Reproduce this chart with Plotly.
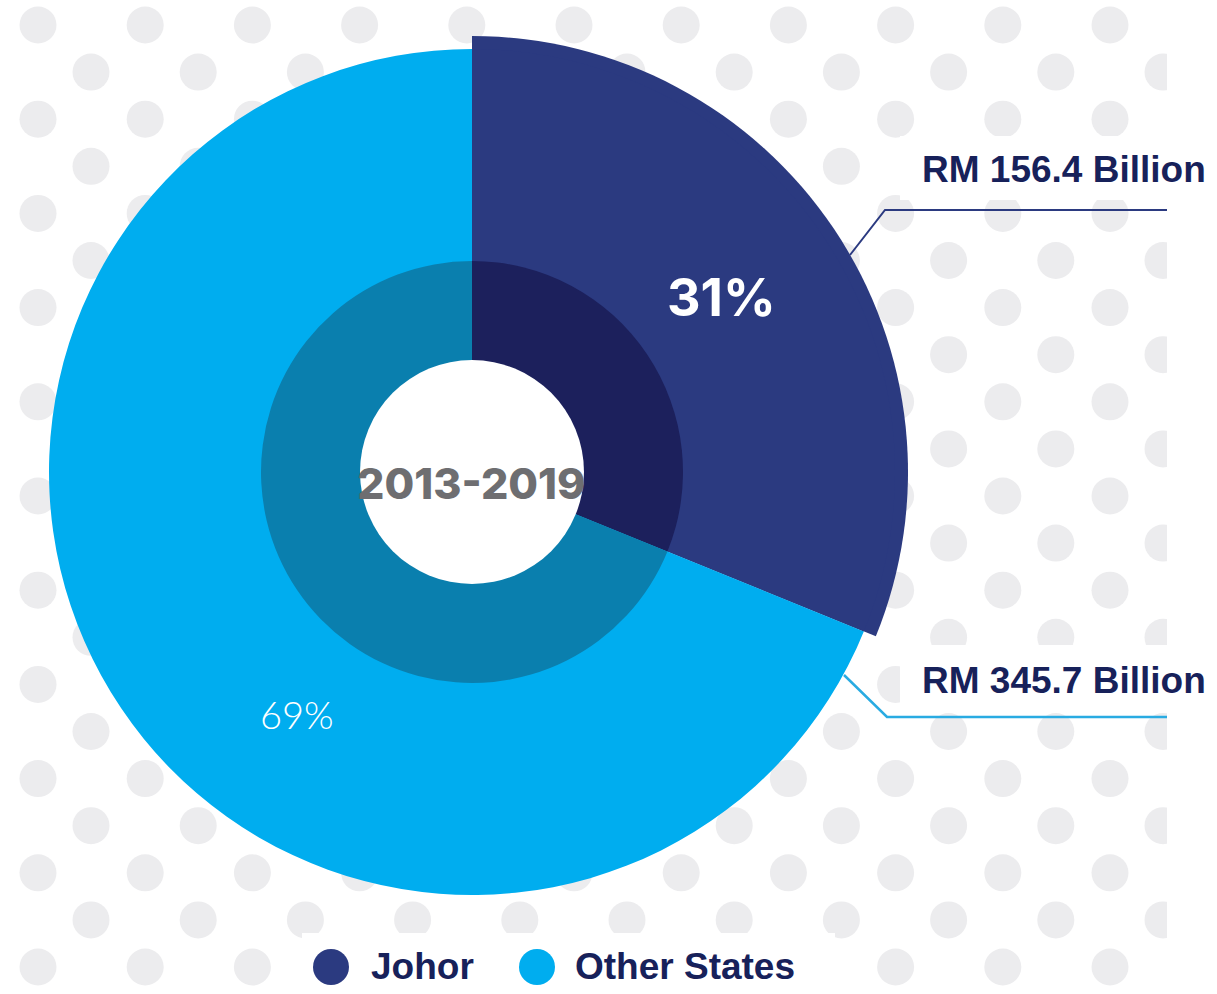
import plotly.graph_objects as go

# ---------------- data ----------------
states = ["Johor", "Other States"]
investment_bn = [156.4, 345.7]          # RM billion, 2013-2019
period = "2013-2019"

outer_colors = ["#2B3A80", "#00ADEF"]
inner_colors = ["#1C205C", "#0A7FAE"]
text_navy = "#17215A"
dot_gray = "#ECECEE"

total = sum(investment_bn)
pct_text = [f"{round(v / total * 100)}%" for v in investment_bn]
value_text = [f"RM {v:.1f} Billion" for v in investment_bn]

# ---------------- canvas ----------------
W, H = 1217, 994
CX, CY = 472, 472
R_JOHOR, R_OUTER, R_INNER, R_HOLE = 436, 423, 211, 112


def dom(r):
    return dict(x=[(CX - r) / W, (CX + r) / W],
                y=[1 - (CY + r) / H, 1 - (CY - r) / H])


fig = go.Figure()

# background dot pattern
dx, dy = 107.2, 47.1
xs, ys = [], []
for row in range(22):
    y = 25 + row * dy
    x0 = 38 if row % 2 == 0 else 91
    k = 0
    while x0 + k * dx < 1200:
        xs.append(x0 + k * dx)
        ys.append(y)
        k += 1
fig.add_trace(go.Scatter(x=xs, y=ys, mode="markers",
                         marker=dict(size=37, color=dot_gray, line=dict(width=0)),
                         hoverinfo="skip", showlegend=False))

# white panels (clip right edge, label boxes, legend box)
def white_box(x0, x1, y0, y1):
    fig.add_trace(go.Scatter(x=[x0, x1, x1, x0, x0], y=[y0, y0, y1, y1, y0],
                             mode="lines", fill="toself", fillcolor="white",
                             line=dict(width=0, color="white"),
                             hoverinfo="skip", showlegend=False))

white_box(1167, 1230, -10, 1010)
white_box(900, 1230, 136, 200)
white_box(900, 1230, 645, 709)
white_box(302, 835, 933, 1010)

# leader lines
fig.add_trace(go.Scatter(x=[850, 885, 1167], y=[255, 210, 210], mode="lines",
                         line=dict(color=outer_colors[0], width=2),
                         hoverinfo="skip", showlegend=False))
fig.add_trace(go.Scatter(x=[844, 887, 1167], y=[675, 717, 717], mode="lines",
                         line=dict(color="#29ABE2", width=2.5),
                         hoverinfo="skip", showlegend=False))

# legend markers
fig.add_trace(go.Scatter(x=[331, 537], y=[967, 967], mode="markers",
                         marker=dict(size=36, color=outer_colors, line=dict(width=0)),
                         hoverinfo="skip", showlegend=False))

# pies
fig.add_trace(go.Pie(values=investment_bn, labels=states, sort=False,
                     direction="clockwise", rotation=0,
                     marker=dict(colors=[outer_colors[0], "rgba(0,0,0,0)"], line=dict(width=0)),
                     textinfo="none", hoverinfo="skip", showlegend=False,
                     domain=dom(R_JOHOR)))
fig.add_trace(go.Pie(values=investment_bn, labels=states, sort=False,
                     direction="clockwise", rotation=0,
                     marker=dict(colors=outer_colors, line=dict(width=0)),
                     textinfo="none", hoverinfo="skip", showlegend=False,
                     domain=dom(R_OUTER)))
fig.add_trace(go.Pie(values=investment_bn, labels=states, sort=False,
                     direction="clockwise", rotation=0,
                     marker=dict(colors=inner_colors, line=dict(width=0)),
                     textinfo="none", hoverinfo="skip", showlegend=False,
                     domain=dom(R_INNER)))

shapes = [dict(type="circle", xref="x", yref="y", layer="above",
               x0=CX - R_HOLE, x1=CX + R_HOLE, y0=CY - R_HOLE, y1=CY + R_HOLE,
               fillcolor="white", line=dict(width=0))]

label_font = dict(family="Liberation Sans, Arial, sans-serif", size=37, color=text_navy, weight="bold")
annotations = [
    dict(x=721, y=297, text=pct_text[0], showarrow=False, xanchor="center", yanchor="middle",
         font=dict(family="Inter, sans-serif", size=52, color="white", weight="bold")),
    dict(x=297, y=714, text=pct_text[1], showarrow=False, xanchor="center", yanchor="middle",
         font=dict(family="Lato, sans-serif", size=38, color="white", weight=300)),
    dict(x=471, y=483, text=period, showarrow=False, xanchor="center", yanchor="middle",
         font=dict(family="Inter, sans-serif", size=43, color="#6E6E71", weight=800)),
    dict(x=920, y=169, text=value_text[0], showarrow=False, xanchor="left", yanchor="middle",
         font=label_font),
    dict(x=920, y=680, text=value_text[1], showarrow=False, xanchor="left", yanchor="middle",
         font=label_font),
    dict(x=369, y=966, text=states[0], showarrow=False, xanchor="left", yanchor="middle",
         font=label_font),
    dict(x=573, y=966, text=states[1], showarrow=False, xanchor="left", yanchor="middle",
         font=label_font),
]

fig.update_layout(
    width=W, height=H,
    margin=dict(l=0, r=0, t=0, b=0),
    paper_bgcolor="white", plot_bgcolor="white",
    xaxis=dict(range=[0, W], visible=False, fixedrange=True),
    yaxis=dict(range=[H, 0], visible=False, fixedrange=True),
    shapes=shapes, annotations=annotations,
    showlegend=False,
)

fig.write_html("out.html", config={"displayModeBar": False},
               post_script="document.body.style.margin='0';document.body.style.overflow='hidden';")
